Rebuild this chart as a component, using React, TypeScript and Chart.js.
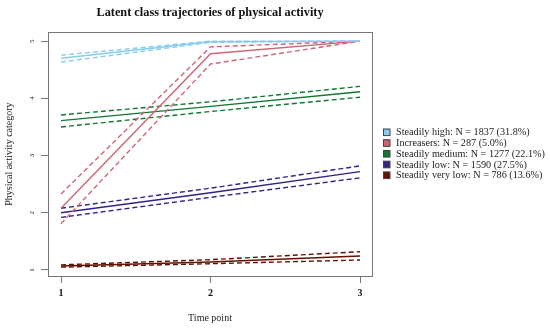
import React, { useEffect, useRef } from "react";
import { Chart, registerables } from "chart.js";

Chart.register(...registerables);

const timePoints = [1, 2, 3];
const xTicks = [1, 2, 3];
const yTicks = [1, 2, 3, 4, 5];

const classNames = [
  "Steadily high: N = 1837 (31.8%)",
  "Increasers: N = 287 (5.0%)",
  "Steadily medium: N = 1277 (22.1%)",
  "Steadily low: N = 1590 (27.5%)",
  "Steadily very low: N = 786 (13.6%)",
];
const classColors = ["#88CCEE", "#CC6677", "#117733", "#332288", "#661100"];

const highMean = [4.7, 4.99, 5.0];
const highUpper = [4.755, 5.0, 5.0];
const highLower = [4.635, 4.98, 5.0];

const incMean = [2.08, 4.78, 5.0];
const incUpper = [2.33, 4.9, 5.0];
const incLower = [1.81, 4.6, 5.0];

const medMean = [3.61, 3.86, 4.115];
const medUpper = [3.71, 3.94, 4.21];
const medLower = [3.5, 3.77, 4.02];

const lowMean = [2.0, 2.35, 2.72];
const lowUpper = [2.08, 2.43, 2.82];
const lowLower = [1.92, 2.27, 2.61];

const vlowMean = [1.07, 1.14, 1.245];
const vlowUpper = [1.09, 1.18, 1.32];
const vlowLower = [1.05, 1.11, 1.175];

const seriesSets = [
  [highMean, highUpper, highLower],
  [incMean, incUpper, incLower],
  [medMean, medUpper, medLower],
  [lowMean, lowUpper, lowLower],
  [vlowMean, vlowUpper, vlowLower],
];

const SERIF = "'Liberation Serif', 'DejaVu Serif', serif";

export default function App() {
  const ref = useRef<HTMLCanvasElement>(null);

  useEffect(() => {
    if (!ref.current) return;
    const datasets: any[] = [];
    seriesSets.forEach((set, i) => {
      set.forEach((vals, j) => {
        datasets.push({
          label: classNames[i] + (j === 0 ? "" : j === 1 ? " upper" : " lower"),
          data: timePoints.map((t, k) => ({ x: t, y: vals[k] })),
          borderColor: classColors[i],
          backgroundColor: classColors[i],
          borderWidth: 1.4,
          borderDash: j === 0 ? [] : [5, 3],
          pointRadius: 0,
          tension: 0,
          fill: false,
        });
      });
    });

    const frame = {
      id: "frame",
      afterDraw(chart: any) {
        const { ctx, chartArea } = chart;
        ctx.save();
        ctx.strokeStyle = "#777";
        ctx.lineWidth = 1;
        ctx.strokeRect(
          Math.round(chartArea.left) + 0.5,
          Math.round(chartArea.top) + 0.5,
          Math.round(chartArea.right - chartArea.left),
          Math.round(chartArea.bottom - chartArea.top)
        );
        // legend
        const cy = (chartArea.top + chartArea.bottom) / 2;
        const x0 = chartArea.right + 11;
        ctx.font = "10.2px " + SERIF;
        ctx.textBaseline = "middle";
        ctx.textAlign = "left";
        classNames.forEach((name, i) => {
          const y = cy - 22 + i * 10.75;
          ctx.fillStyle = classColors[i];
          ctx.fillRect(x0, y - 3.5, 7, 7);
          ctx.strokeStyle = "#444";
          ctx.strokeRect(x0 + 0.5, y - 3, 6.5, 6.5);
          ctx.fillStyle = "#222";
          ctx.fillText(name, x0 + 13, y + 0.5);
        });
        ctx.restore();
      },
    };

    const chart = new Chart(ref.current, {
      type: "line",
      data: { datasets },
      plugins: [frame],
      options: {
        animation: false,
        responsive: false,
        layout: { padding: { left: 0, right: 178, top: 0, bottom: 0 } },
        plugins: {
          legend: { display: false },
          tooltip: { enabled: false },
          title: {
            display: true,
            text: "Latent class trajectories of physical activity",
            fullSize: false,
            color: "#111",
            font: { family: SERIF, size: 12.3, weight: "bold" },
            padding: { top: 5, bottom: 12.4 },
          },
        },
        scales: {
          x: {
            type: "linear",
            min: 0.913,
            max: 3.08,
            afterBuildTicks: (s: any) => {
              s.ticks = xTicks.map((v) => ({ value: v }));
            },
            afterFit: (s: any) => {
              s.height = 52;
            },
            grid: {
              drawOnChartArea: false,
              drawTicks: true,
              tickLength: 7,
              color: "#777",
            },
            border: { display: false },
            ticks: {
              color: "#111",
              padding: 4,
              font: { family: SERIF, size: 10, weight: "bold" },
              maxRotation: 0,
            },
            title: {
              display: true,
              text: "Time point",
              color: "#222",
              font: { family: SERIF, size: 10 },
              padding: { top: 0, bottom: 4 },
            },
          },
          y: {
            type: "linear",
            min: 0.895,
            max: 5.157,
            afterBuildTicks: (s: any) => {
              s.ticks = yTicks.map((v) => ({ value: v }));
            },
            afterFit: (s: any) => {
              s.width = 48;
            },
            grid: {
              drawOnChartArea: false,
              drawTicks: true,
              tickLength: 7,
              color: "#777",
            },
            border: { display: false },
            ticks: {
              color: "#222",
              padding: 7,
              crossAlign: "center",
              minRotation: 90,
              maxRotation: 90,
              font: { family: SERIF, size: 7 },
            },
            title: {
              display: true,
              text: "Physical activity category",
              color: "#222",
              font: { family: SERIF, size: 10 },
              padding: { top: 3, bottom: 0 },
            },
          },
        },
      } as any,
    });
    return () => chart.destroy();
  }, []);

  return (
    <div style={{ position: "fixed", left: 0, top: 0, width: 550, height: 328, background: "#fff" }}>
      <canvas ref={ref} width={550} height={328} style={{ width: 550, height: 328 }} />
    </div>
  );
}
